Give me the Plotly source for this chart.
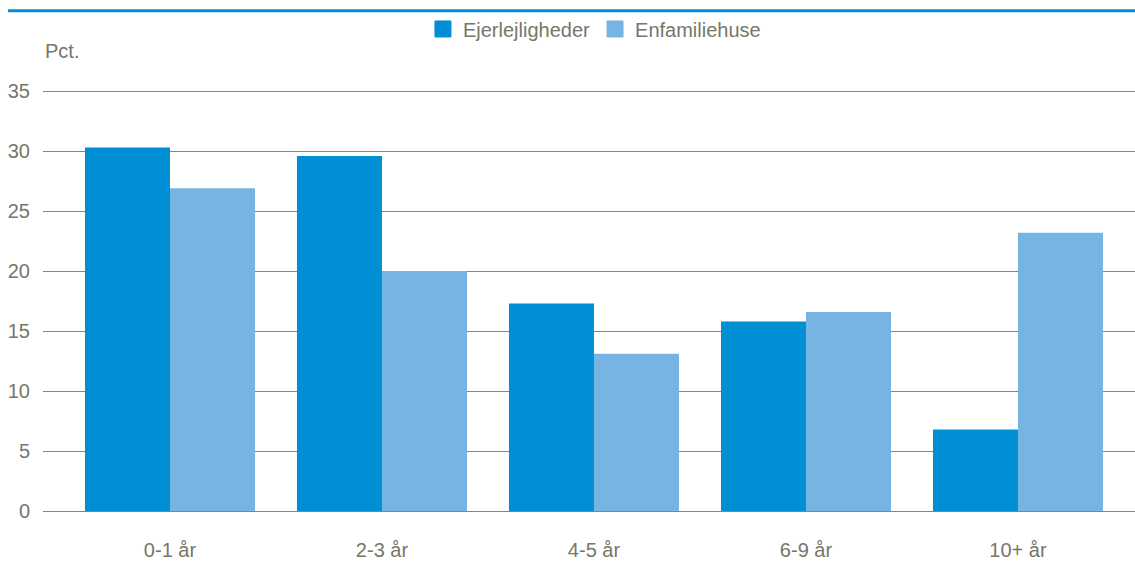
import plotly.graph_objects as go

# Ownership duration groups and shares (pct.)
categories = ["0-1 år", "2-3 år", "4-5 år", "6-9 år", "10+ år"]
ejerlejligheder = [30.3, 29.6, 17.3, 15.8, 6.8]
enfamiliehuse = [26.9, 20.0, 13.1, 16.6, 23.2]
y_ticks = [0, 5, 10, 15, 20, 25, 30, 35]

TEXT = "#76766a"
GRID = "#85857a"
DARK = "#008fd5"
LIGHT = "#76b5e3"
FONT = "Liberation Sans, Arial, sans-serif"

fig = go.Figure()
fig.add_trace(go.Bar(name="Ejerlejligheder", x=categories, y=ejerlejligheder,
                     marker=dict(color=DARK, line=dict(width=0)), showlegend=False))
fig.add_trace(go.Bar(name="Enfamiliehuse", x=categories, y=enfamiliehuse,
                     marker=dict(color=LIGHT, line=dict(width=0)), showlegend=False))

# Legend entries with larger square keys
for name, color in [("Ejerlejligheder", DARK), ("Enfamiliehuse", LIGHT)]:
    fig.add_trace(go.Scatter(name=name, x=[None], y=[None], mode="markers",
                             marker=dict(symbol="square", size=16, color=color,
                                         line=dict(color=color, width=1)),
                             showlegend=True, hoverinfo="skip"))

fig.update_layout(
    width=1135, height=563,
    margin=dict(l=43, r=0, t=90, b=52),
    paper_bgcolor="white", plot_bgcolor="white",
    barmode="group", bargap=0.198, bargroupgap=0,
    font=dict(family=FONT, size=20, color=TEXT),
    showlegend=True,
    legend=dict(orientation="h", x=0.505, xanchor="center", y=1.145, yanchor="middle",
                font=dict(size=20, color=TEXT), itemsizing="trace",
                traceorder="normal", bgcolor="rgba(0,0,0,0)"),
    xaxis=dict(type="category", range=[-0.599, 4.552], showgrid=False,
               showline=False, zeroline=False, ticks="",
               ticklabelstandoff=25, tickfont=dict(size=20, color=TEXT)),
    yaxis=dict(range=[0, 35.1], tickvals=y_ticks, showgrid=True, gridcolor=GRID,
               gridwidth=1, zeroline=True, zerolinecolor=GRID, zerolinewidth=1,
               showline=False, ticks="", ticklabelstandoff=12,
               tickfont=dict(size=20, color=TEXT)),
    annotations=[dict(text="Pct.", xref="paper", yref="paper", x=0, y=1.093,
                      xanchor="left", yanchor="middle", showarrow=False,
                      font=dict(size=20, color=TEXT))],
    shapes=[dict(type="line", xref="paper", yref="paper", x0=-0.032, x1=1,
                 y0=1.188, y1=1.188, line=dict(color="#0090d4", width=3))],
)

fig.write_html("out.html")
